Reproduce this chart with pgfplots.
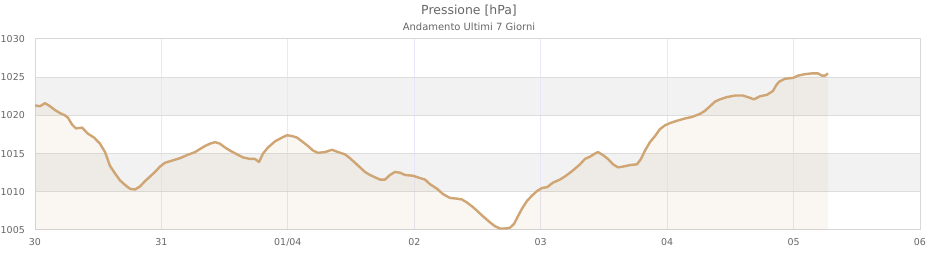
\documentclass[border=0pt]{standalone}
\usepackage{fontspec}
\setmainfont{DejaVu Sans}
\usepackage{pgfplots}
\pgfplotsset{compat=1.18}
\usepackage{pgfplotstable}
\definecolor{linec}{HTML}{CFA574}
\definecolor{txt}{HTML}{666666}
\definecolor{band}{HTML}{F2F2F2}
\definecolor{hgrid}{HTML}{DDDDDD}
\definecolor{vgrid}{HTML}{E8E6F8}
\definecolor{framec}{HTML}{D8D8D8}

\pgfplotstableread{
d p
0 1021.3
0.040 1021.2
0.079 1021.6
0.119 1021.2
0.158 1020.7
0.198 1020.3
0.237 1020.0
0.261 1019.7
0.293 1018.8
0.324 1018.3
0.372 1018.4
0.419 1017.6
0.467 1017.1
0.514 1016.3
0.554 1015.2
0.593 1013.4
0.633 1012.4
0.672 1011.5
0.712 1010.9
0.751 1010.4
0.791 1010.3
0.830 1010.7
0.870 1011.4
0.910 1012.0
0.949 1012.6
0.989 1013.3
1.028 1013.8
1.068 1014.0
1.107 1014.2
1.147 1014.4
1.202 1014.8
1.266 1015.2
1.305 1015.6
1.345 1016.0
1.384 1016.3
1.424 1016.5
1.463 1016.3
1.503 1015.8
1.542 1015.4
1.598 1014.9
1.645 1014.5
1.701 1014.3
1.740 1014.3
1.772 1013.9
1.803 1015.0
1.843 1015.8
1.898 1016.6
1.954 1017.1
1.993 1017.4
2.033 1017.3
2.072 1017.1
2.112 1016.6
2.159 1016.0
2.199 1015.4
2.238 1015.1
2.294 1015.2
2.349 1015.5
2.397 1015.2
2.452 1014.9
2.491 1014.4
2.531 1013.8
2.571 1013.2
2.610 1012.6
2.650 1012.2
2.689 1011.9
2.729 1011.6
2.768 1011.6
2.808 1012.2
2.847 1012.6
2.887 1012.5
2.927 1012.2
2.990 1012.1
3.045 1011.8
3.085 1011.6
3.124 1011.0
3.180 1010.4
3.227 1009.7
3.282 1009.2
3.338 1009.1
3.377 1009.0
3.417 1008.6
3.464 1008.0
3.504 1007.4
3.543 1006.8
3.599 1006.0
3.638 1005.5
3.678 1005.2
3.717 1005.2
3.757 1005.3
3.789 1005.8
3.820 1006.8
3.852 1007.8
3.891 1008.8
3.931 1009.5
3.971 1010.1
4.010 1010.5
4.050 1010.6
4.097 1011.2
4.152 1011.6
4.200 1012.1
4.255 1012.8
4.311 1013.6
4.350 1014.3
4.390 1014.6
4.429 1015.0
4.453 1015.2
4.493 1014.8
4.532 1014.3
4.572 1013.6
4.611 1013.2
4.651 1013.3
4.706 1013.5
4.762 1013.6
4.793 1014.3
4.825 1015.4
4.864 1016.5
4.904 1017.3
4.943 1018.2
4.983 1018.7
5.023 1019.0
5.078 1019.3
5.141 1019.6
5.197 1019.8
5.260 1020.2
5.299 1020.6
5.339 1021.2
5.378 1021.8
5.418 1022.1
5.473 1022.4
5.537 1022.6
5.600 1022.6
5.655 1022.3
5.687 1022.1
5.734 1022.5
5.790 1022.7
5.837 1023.2
5.861 1023.9
5.885 1024.4
5.932 1024.8
5.995 1024.9
6.035 1025.2
6.090 1025.4
6.146 1025.5
6.193 1025.5
6.225 1025.2
6.249 1025.2
6.272 1025.5
}\pressure

\begin{document}
\begin{tikzpicture}
\path (0,0) rectangle (940bp,260bp);
\begin{axis}[
  set layers,
  at={(35bp,30bp)}, anchor=south west,
  scale only axis, width=885bp, height=191bp,
  xmin=0, xmax=7, ymin=1005, ymax=1030,
  xtick={0,1,2,3,4,5,6,7},
  xticklabels={30,31,01/04,02,03,04,05,06},
  ytick={1005,1010,1015,1020,1025,1030},
  major tick length=0pt,
  tick style={draw=none},
  xmajorgrids, ymajorgrids,
  major x grid style={draw=vgrid, line width=1bp},
  major y grid style={draw=hgrid, line width=1bp},
  axis line style={draw=framec, line width=1bp},
  ticklabel style={font=\fontsize{9.5}{11}\selectfont, text=txt, inner sep=0pt},
  /pgf/number format/assume math mode=true,
  /pgf/number format/1000 sep={},
  yticklabel style={xshift=-10bp},
  xticklabel style={yshift=-8.5bp},
]
\begin{pgfonlayer}{axis background}
\fill[band] (axis cs:0,1020) rectangle (axis cs:7,1025);
\fill[band] (axis cs:0,1010) rectangle (axis cs:7,1015);
\end{pgfonlayer}
\addplot[draw=none, fill=linec, fill opacity=0.1] table[x=d, y=p] {\pressure} \closedcycle;
\addplot[linec, line width=2.4bp, line join=round] table[x=d, y=p] {\pressure};
\end{axis}
\node[text=txt, font=\fontsize{12.5}{14}\selectfont] at (469bp,249bp) {Pressione [hPa]};
\node[text=txt, font=\fontsize{10}{12}\selectfont] at (469bp,233bp) {Andamento Ultimi 7 Giorni};
\end{tikzpicture}
\end{document}
